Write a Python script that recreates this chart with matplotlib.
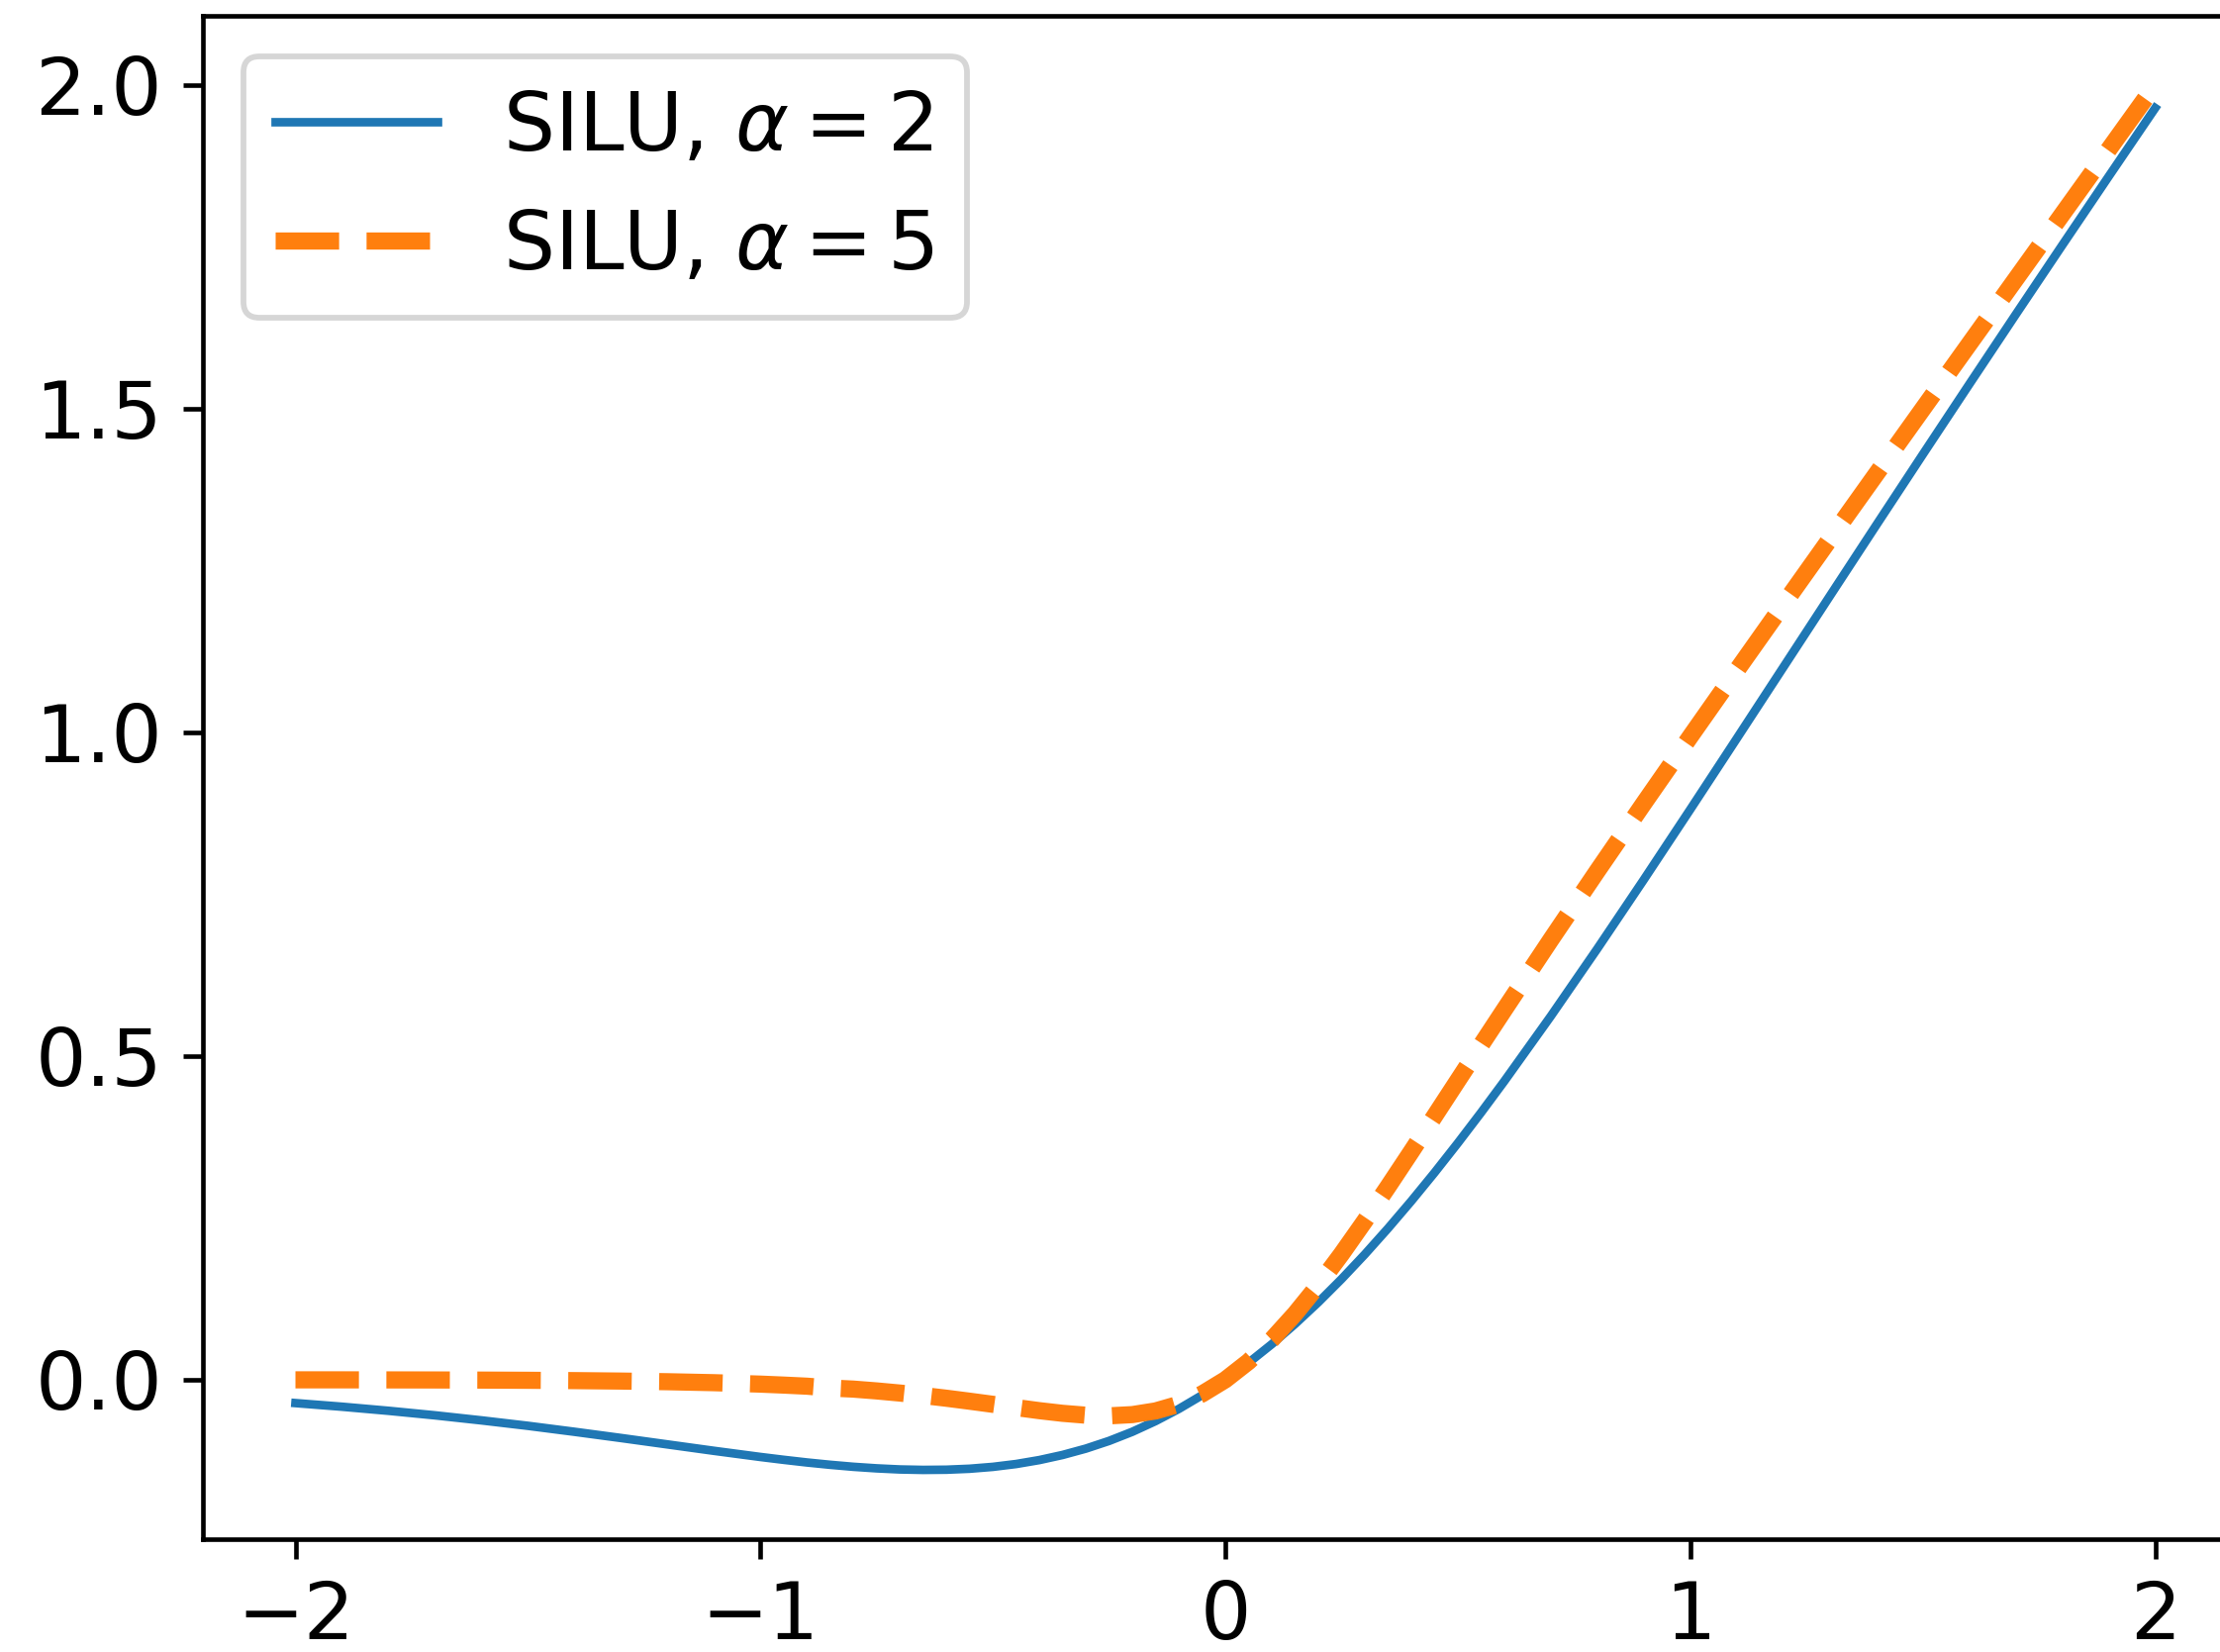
import matplotlib
matplotlib.use("Agg")
import matplotlib.pyplot as plt

DPI = 416
W_PX, H_PX = 2243, 1669

# x grid (finer around the bend) and curve values
x_vals = [-2.0, -1.9, -1.8, -1.7, -1.6, -1.5, -1.4, -1.3, -1.2, -1.1, -1.0,
          -0.95, -0.9, -0.85, -0.8, -0.75, -0.7, -0.65, -0.6, -0.55, -0.5,
          -0.45, -0.4, -0.35, -0.3, -0.25, -0.2, -0.15, -0.1, -0.05, 0.0,
          0.05, 0.1, 0.15, 0.2, 0.25, 0.3, 0.35, 0.4, 0.45, 0.5, 0.55, 0.6,
          0.7, 0.8, 0.9, 1.0, 1.1, 1.2, 1.3, 1.4, 1.5, 1.6, 1.7, 1.8, 1.9, 2.0]

silu_a2 = [-0.0360, -0.0416, -0.0479, -0.0549, -0.0627, -0.0711, -0.0803,
           -0.0899, -0.0998, -0.1097, -0.1192,
           -0.1236, -0.1277, -0.1313, -0.1344, -0.1368, -0.1385, -0.1392,
           -0.1389, -0.1374, -0.1345, -0.1301, -0.1240, -0.1161, -0.1063,
           -0.0944, -0.0803, -0.0638, -0.0450, -0.0238, 0.0000,
           0.0263, 0.0550, 0.0862, 0.1197, 0.1556, 0.1937, 0.2339, 0.2760,
           0.3199, 0.3655, 0.4126, 0.4611,
           0.5615, 0.6656, 0.7723, 0.8808, 0.9903, 1.1002, 1.2101, 1.3198,
           1.4289, 1.5373, 1.6451, 1.7521, 1.8584, 1.9640]

silu_a5 = [-0.0001, -0.0001, -0.0002, -0.0003, -0.0005, -0.0008, -0.0013,
           -0.0020, -0.0030, -0.0045, -0.0067,
           -0.0082, -0.0099, -0.0127, -0.0144, -0.0172, -0.0205, -0.0243,
           -0.0285, -0.0331, -0.0379, -0.0429, -0.0477, -0.0518, -0.0547,
           -0.0557, -0.0538, -0.0481, -0.0378, -0.0219, 0.0000,
           0.0281, 0.0622, 0.1019, 0.1462, 0.1943, 0.2453, 0.2982, 0.3523,
           0.4071, 0.4621, 0.5170, 0.5715,
           0.6795, 0.7856, 0.8901, 0.9933, 1.0955, 1.1970, 1.2980, 1.3987,
           1.4992, 1.5995, 1.6997, 1.7998, 1.8999, 1.9999]

labels = [r"SILU, $\alpha = 2$", r"SILU, $\alpha = 5$"]

plt.rcParams["font.size"] = 14

fig = plt.figure(figsize=(W_PX / DPI, H_PX / DPI), dpi=DPI)
# right spine sits just past the image edge in the reference
ax = fig.add_axes([0.0912, 0.0683, 0.9215, 0.9223])

ax.plot(x_vals, silu_a2, "-", color="#1f77b4", lw=1.5, label=labels[0])
ax.plot(x_vals, silu_a5, "--", color="#ff7f0e", lw=3, label=labels[1])

ax.set_xticks([-2, -1, 0, 1, 2])
ax.set_yticks([0.0, 0.5, 1.0, 1.5, 2.0])
ax.legend(loc="upper left", fontsize=14.2)

fig.savefig("out.png", dpi=DPI)
